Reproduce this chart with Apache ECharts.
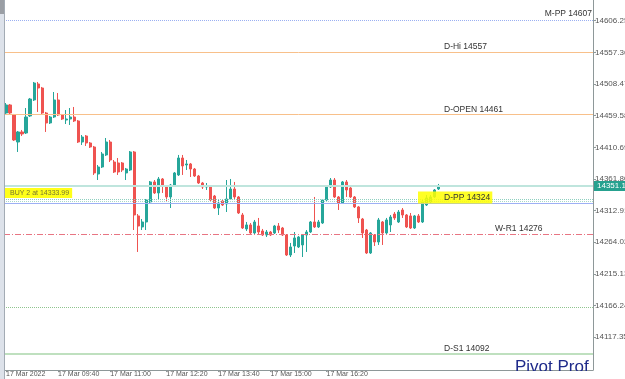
<!DOCTYPE html>
<html>
<head>
<meta charset="utf-8">
<script src="https://cdn.jsdelivr.net/npm/echarts@6/dist/echarts.min.js"></script>
<style>
html, body { margin: 0; padding: 0; background: #fff; }
#main { width: 625px; height: 379px; }
</style>
</head>
<body>
<div id="main"></div>
<script>
// bar prices (M6 bars, 17 Mar 2022)
var opens = [14463.7, 14476.1, 14460.6, 14418.9, 14434.4, 14432.8, 14459.1, 14483.8, 14508.5, 14502.3,
  14463.7, 14448.3, 14457.5, 14483.8, 14460.6, 14452.9, 14454.4, 14457.5, 14451.4, 14418.9,
  14428.2, 14417.4, 14411.2, 14369.5, 14380.3, 14398.9, 14418.9, 14388.0, 14386.5, 14386.5,
  14371.1, 14375.7, 14403.5, 14304.7, 14287.7, 14295.4, 14326.3, 14357.2, 14340.2, 14361.8,
  14349.4, 14334.0, 14352.5, 14368.0, 14394.2, 14383.4, 14385.0, 14377.2, 14366.4, 14355.6,
  14349.4, 14349.4, 14335.5, 14317.0, 14327.8, 14323.2, 14330.9, 14346.3, 14334.0, 14306.2,
  14284.6, 14290.8, 14278.4, 14289.2, 14281.5, 14275.3, 14279.9, 14278.4, 14289.2, 14286.1,
  14275.3, 14244.4, 14258.3, 14256.8, 14259.9, 14275.3, 14279.9, 14295.4, 14287.7, 14293.8,
  14329.4, 14349.4, 14360.2, 14334.0, 14324.7, 14357.2, 14347.9, 14334.0, 14318.6, 14300.0,
  14283.0, 14247.5, 14275.3, 14264.5, 14295.4, 14278.4, 14290.8, 14307.7, 14295.4, 14313.9,
  14306.2, 14304.7, 14286.1, 14304.7, 14295.4, 14321.6, 14326.3, 14334.0, 14346.3];
var closes = [14476.1, 14463.7, 14422.0, 14434.4, 14431.3, 14457.5, 14485.3, 14510.0, 14502.3, 14463.7,
  14448.3, 14457.5, 14483.8, 14460.6, 14454.4, 14454.4, 14457.5, 14451.4, 14418.9, 14426.6,
  14417.4, 14411.2, 14371.1, 14380.3, 14400.4, 14418.9, 14391.1, 14372.6, 14372.6, 14375.7,
  14377.2, 14403.5, 14306.2, 14289.2, 14295.4, 14329.4, 14357.2, 14340.2, 14361.8, 14351.0,
  14334.0, 14352.5, 14371.1, 14394.2, 14381.9, 14385.0, 14377.2, 14366.4, 14355.6, 14349.4,
  14351.0, 14329.4, 14317.0, 14324.7, 14321.6, 14330.9, 14346.3, 14334.0, 14309.3, 14286.1,
  14290.8, 14278.4, 14295.4, 14279.9, 14275.3, 14279.9, 14275.3, 14289.2, 14283.0, 14275.3,
  14244.4, 14256.8, 14270.7, 14272.2, 14275.3, 14279.9, 14295.4, 14287.7, 14295.4, 14329.4,
  14349.4, 14360.2, 14334.0, 14324.7, 14357.2, 14344.8, 14334.0, 14318.6, 14301.6, 14278.4,
  14247.5, 14278.4, 14264.5, 14298.5, 14278.4, 14298.5, 14303.1, 14301.6, 14310.8, 14306.2,
  14287.7, 14286.1, 14304.7, 14295.4, 14326.3, 14332.5, 14334.0, 14344.8, 14351.1];
var lows = [14462.2, 14462.2, 14420.5, 14403.5, 14428.2, 14431.3, 14457.5, 14482.2, 14465.3, 14462.2,
  14434.4, 14446.7, 14456.0, 14459.1, 14452.9, 14446.7, 14445.2, 14449.8, 14417.4, 14414.3,
  14412.8, 14409.7, 14368.0, 14360.2, 14378.8, 14397.3, 14388.0, 14371.1, 14368.0, 14372.6,
  14360.2, 14374.1, 14283.0, 14249.1, 14283.0, 14283.0, 14324.7, 14338.6, 14329.4, 14340.2,
  14326.3, 14317.0, 14351.0, 14366.4, 14368.0, 14375.7, 14364.9, 14364.9, 14354.1, 14346.3,
  14344.8, 14327.8, 14315.5, 14306.2, 14320.1, 14310.8, 14329.4, 14330.9, 14307.7, 14284.6,
  14281.5, 14276.8, 14276.8, 14275.3, 14273.8, 14272.2, 14273.8, 14276.8, 14278.4, 14273.8,
  14242.9, 14241.3, 14247.5, 14255.2, 14241.3, 14249.1, 14278.4, 14286.1, 14286.1, 14292.3,
  14327.8, 14347.9, 14332.5, 14313.9, 14323.2, 14334.0, 14332.5, 14317.0, 14293.8, 14270.7,
  14246.0, 14246.0, 14258.3, 14259.9, 14259.9, 14276.8, 14279.9, 14298.5, 14293.8, 14301.6,
  14286.1, 14284.6, 14284.6, 14293.8, 14293.8, 14320.1, 14324.7, 14332.5, 14344.8];
var highs = [14479.1, 14477.6, 14462.2, 14435.9, 14437.5, 14471.4, 14486.9, 14511.6, 14511.6, 14503.9,
  14465.3, 14459.1, 14496.1, 14494.6, 14462.2, 14468.3, 14471.4, 14473.0, 14452.9, 14429.7,
  14429.7, 14418.9, 14412.8, 14383.4, 14403.5, 14425.1, 14422.0, 14391.1, 14394.2, 14388.0,
  14378.8, 14405.0, 14405.0, 14307.7, 14300.0, 14330.9, 14358.7, 14360.2, 14364.9, 14363.3,
  14351.0, 14354.1, 14372.6, 14398.9, 14398.9, 14391.1, 14386.5, 14378.8, 14368.0, 14357.2,
  14355.6, 14351.0, 14337.1, 14329.4, 14330.9, 14360.2, 14361.8, 14357.2, 14335.5, 14309.3,
  14295.4, 14293.8, 14298.5, 14301.6, 14284.6, 14283.0, 14281.5, 14290.8, 14293.8, 14287.7,
  14276.8, 14263.0, 14279.9, 14273.8, 14276.8, 14283.0, 14296.9, 14334.0, 14298.5, 14330.9,
  14351.0, 14363.3, 14363.3, 14335.5, 14358.7, 14360.2, 14349.4, 14335.5, 14320.1, 14301.6,
  14284.6, 14279.9, 14276.8, 14301.6, 14296.9, 14301.6, 14306.2, 14310.8, 14313.9, 14317.0,
  14307.7, 14309.3, 14306.2, 14307.7, 14329.4, 14337.1, 14337.1, 14346.3, 14354.1];

// chart has empty shift space to the right of the last bar
var barSlots = 147;

// price levels drawn by the pivot indicator
var levelNames = ['M-PP 14607', 'D-Hi 14557', 'D-OPEN 14461', 'D-PP 14324', 'W-R1 14276', 'D-S1 14092'];
var levelValues = [14607, 14557, 14461, 14324, 14276, 14092];
var extraDotted = [14164];
var buyLabel = 'BUY 2 at 14333.99';
var orderLines = [14331, 14328];
var lastPrice = 14351.14;

var yTicks = [14117.35, 14166.24, 14215.13, 14264.02, 14312.91, 14361.80, 14410.69, 14459.58, 14508.47, 14557.36, 14606.25];
var yMin = 14066.8;
var yMax = 14638.2;

var xTickIdx = [0, 13, 26, 40, 53, 66, 80];
var xTickText = ['17 Mar 2022', '17 Mar 09:40', '17 Mar 11:00', '17 Mar 12:20', '17 Mar 13:40', '17 Mar 15:00', '17 Mar 16:20'];

var cats = [];
for (var i = 0; i < barSlots; i++) cats.push(String(i));
var kdata = [];
for (var j = 0; j < opens.length; j++) kdata.push([opens[j], closes[j], lows[j], highs[j]]);

var FONT = 'Liberation Sans';
var axisGray = '#8e9899';

function isTick (idx) { return xTickIdx.indexOf(idx) >= 0 }

var lvlLabel = function (text, dx, extra) {
  var l = { show: true, position: 'insideStartTop', distance: [dx, 1], formatter: text,
    color: '#333', fontSize: 8.5, fontFamily: FONT };
  return Object.assign(l, extra || {});
};

var chart = echarts.init(document.getElementById('main'), null, { renderer: 'canvas' });
chart.setOption({
  animation: false,
  backgroundColor: '#fff',
  grid: { left: 4, right: 32, top: 0, bottom: 9, containLabel: false, outerBoundsMode: 'none' },
  xAxis: {
    type: 'category',
    data: cats,
    boundaryGap: true,
    axisLine: { lineStyle: { color: axisGray } },
    axisTick: { show: true, alignWithLabel: true, interval: isTick, length: 2, lineStyle: { color: axisGray } },
    axisLabel: {
      interval: isTick,
      formatter: function (v, idx) { return xTickText[xTickIdx.indexOf(idx)] },
      align: 'left', fontSize: 7, color: '#555', margin: 1, fontFamily: FONT
    },
    splitLine: { show: false }
  },
  yAxis: {
    type: 'value',
    position: 'right',
    min: yMin,
    max: yMax,
    axisLine: { show: true, lineStyle: { color: axisGray } },
    axisTick: { show: true, length: 3, customValues: yTicks, lineStyle: { color: axisGray } },
    axisLabel: {
      customValues: yTicks,
      formatter: function (v) { return v.toFixed(2) },
      fontSize: 8, color: '#555', margin: 2, fontFamily: FONT
    },
    splitLine: { show: false }
  },
  series: [{
    type: 'candlestick',
    data: kdata,
    barWidth: 2.6,
    itemStyle: {
      color: '#26a69a', color0: '#ef5350',
      borderColor: '#26a69a', borderColor0: '#ef5350', borderWidth: 1
    },
    markLine: {
      silent: true,
      symbol: ['none', 'none'],
      animation: false,
      data: [
        { yAxis: levelValues[0], lineStyle: { color: '#9bb0f2', type: 'dotted', width: 1 },
          label: { show: true, position: 'insideEndTop', distance: [1, 2], formatter: levelNames[0], color: '#333', fontSize: 8.5, fontFamily: FONT } },
        { yAxis: levelValues[1], lineStyle: { color: '#f8c08a', type: 'solid', width: 1 }, label: lvlLabel(levelNames[1], 440) },
        { yAxis: levelValues[2], lineStyle: { color: '#f8c08a', type: 'solid', width: 1 }, label: lvlLabel(levelNames[2], 440) },
        { yAxis: lastPrice, lineStyle: { color: '#bfe5dd', type: 'solid', width: 2 },
          label: { show: true, position: 'end', distance: 1, formatter: lastPrice.toFixed(2), color: '#fff',
            backgroundColor: '#26a18f', padding: [1, 3], fontSize: 8, fontFamily: FONT } },
        { yAxis: orderLines[0], lineStyle: { color: '#8fd0c0', type: 'dotted', width: 1 },
          label: lvlLabel(buyLabel, 0, { color: '#77772e', fontSize: 7, backgroundColor: 'rgba(255,255,0,0.9)', padding: [2, 3, 1, 6], distance: [0, 1] }) },
        { yAxis: orderLines[1], lineStyle: { color: '#a6d8c8', type: 'dotted', width: 1 }, label: { show: false } },
        { yAxis: levelValues[3], lineStyle: { color: '#9db0f5', type: 'solid', width: 1 },
          label: lvlLabel(levelNames[3], 414, { backgroundColor: 'rgba(255,255,0,0.85)', padding: [2, 2, 1, 26], distance: [414, 0] }) },
        { yAxis: levelValues[4], lineStyle: { color: '#e87583', type: [6, 2, 1, 2], width: 1 }, label: lvlLabel(levelNames[4], 491) },
        { yAxis: extraDotted[0], lineStyle: { color: '#8fc48f', type: 'dotted', width: 1 }, label: { show: false } },
        { yAxis: levelValues[5], lineStyle: { color: '#bfe0bf', type: 'solid', width: 2 }, label: lvlLabel(levelNames[5], 440) }
      ]
    }
  }],
  graphic: [
    { type: 'rect', left: 0, top: 0, shape: { width: 4, height: 379 }, style: { fill: '#dde2ea' }, z: 20 },
    { type: 'rect', left: 0, top: 0, shape: { width: 4, height: 14 }, style: { fill: '#9a9ea4' }, z: 21 },
    { type: 'line', shape: { x1: 4.5, y1: 0, x2: 4.5, y2: 379 }, style: { stroke: '#a3abb4', lineWidth: 1 }, z: 21 },
    { type: 'text', left: 515, top: 359, style: { text: 'Pivot Prof', fill: '#1e2a8a', font: '17px "Liberation Sans"' }, z: 20 },
    { type: 'rect', left: 505, top: 371, shape: { width: 88, height: 10 }, style: { fill: '#fff' }, z: 21 }
  ]
});
</script>
</body>
</html>
